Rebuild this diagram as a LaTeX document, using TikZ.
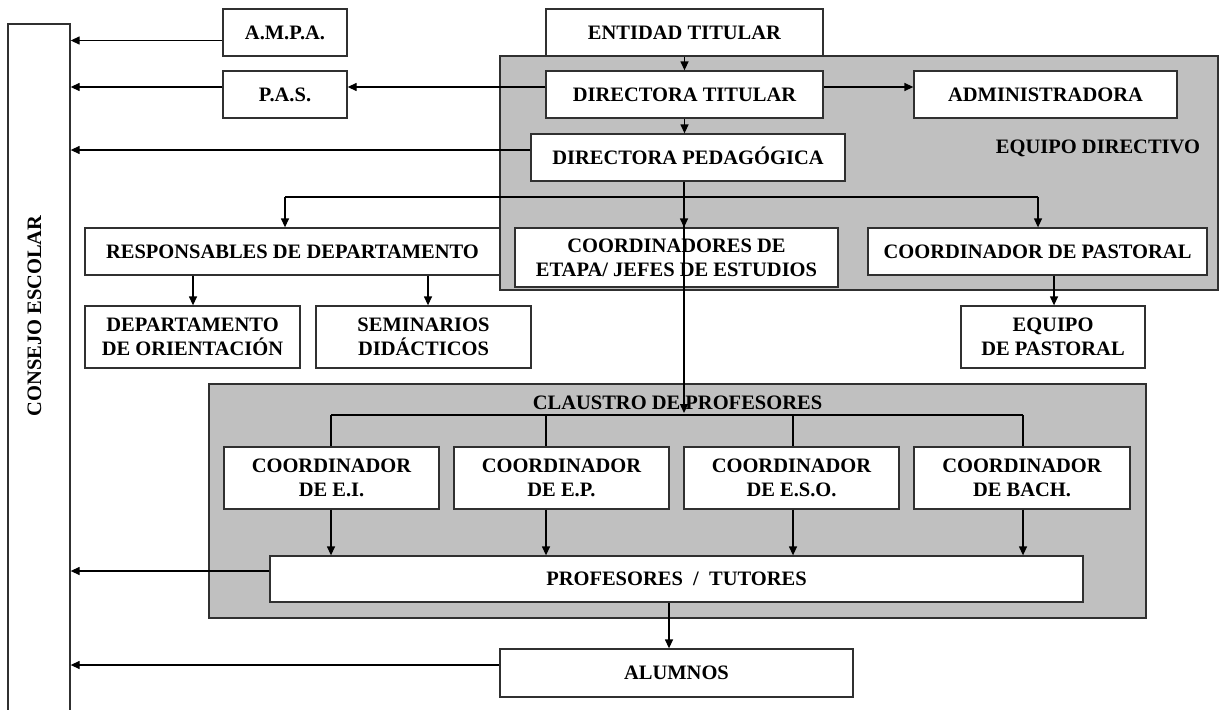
\documentclass[tikz,border=0pt]{standalone}
\usepackage{fontspec}
\setmainfont{Liberation Serif}
\usetikzlibrary{arrows.meta,calc}
\definecolor{grayfill}{HTML}{C0C0C0}
\definecolor{edge}{HTML}{303030}
\begin{document}
\begin{tikzpicture}[x=1pt,y=-1pt,
  txt/.style={font=\fontsize{20.5}{24}\selectfont\bfseries,inner sep=0pt},
  box/.style={txt,draw=edge,line width=1.3pt,fill=white,align=center},
  onebox/.style={box,text height=13.5pt,text depth=0pt},
  panel/.style={draw=edge,line width=1.8pt,fill=grayfill},
  conn/.style={line width=1.3pt,draw=black},
  arr/.style={conn,-{Triangle[length=9pt,width=8pt]}}]
\useasboundingbox (0,0) rectangle (1222,709);
\clip (0,0) rectangle (1222,709);
\fill[white] (0,0) rectangle (1222,709);

% panels
\draw[panel] (500,56) rectangle (1218,290);
\draw[panel] (209,384) rectangle (1146,618);

% consejo escolar
\node[draw=edge,line width=1.3pt,fill=white,minimum width=62pt,minimum height=706pt,inner sep=0pt] (consejo) at (39,377) {};
\node[txt,rotate=90] (consejotxt) at (34.5,316) {CONSEJO ESCOLAR};

% top boxes
\node[onebox,minimum width=124pt,minimum height=47pt] (ampa) at (285,32.5) {A.M.P.A.};
\node[onebox,minimum width=124pt,minimum height=47pt] (pas) at (285,94.5) {P.A.S.};
\node[onebox,minimum width=277pt,minimum height=47pt] (entidad) at (684.5,32.5) {ENTIDAD TITULAR};
\node[onebox,minimum width=277pt,minimum height=47pt] (dirtit) at (684.5,94.5) {DIRECTORA TITULAR};
\node[onebox,minimum width=263pt,minimum height=47pt] (admin) at (1045.5,94.5) {ADMINISTRADORA};
\node[onebox,minimum width=314pt,minimum height=47pt] (dirped) at (688,157.5) {DIRECTORA PEDAGÓGICA};
\node[txt] (eqdir) at (1098,148) {EQUIPO DIRECTIVO};

% middle row
\node[onebox,minimum width=415pt,minimum height=47pt] (resp) at (292.5,251.5) {RESPONSABLES DE DEPARTAMENTO};
\node[box,minimum width=323pt,minimum height=59pt] (coordetapa) at (676.5,257.5) {COORDINADORES DE\\ETAPA/ JEFES DE ESTUDIOS};
\node[onebox,minimum width=339pt,minimum height=47pt] (coordpast) at (1037.5,251.5) {COORDINADOR DE PASTORAL};
\node[box,minimum width=215pt,minimum height=62pt] (deptor) at (192.5,337) {DEPARTAMENTO\\DE ORIENTACIÓN};
\node[box,minimum width=215pt,minimum height=62pt] (semin) at (423.5,337) {SEMINARIOS\\DIDÁCTICOS};
\node[box,minimum width=184pt,minimum height=62pt] (eqpast) at (1053,337) {EQUIPO\\DE PASTORAL};

% claustro
\node[txt] (claustro) at (677.5,403) {CLAUSTRO DE PROFESORES};
\node[box,minimum width=215pt,minimum height=62pt] (ei) at (331.5,478) {COORDINADOR\\DE E.I.};
\node[box,minimum width=215pt,minimum height=62pt] (ep) at (561.5,478) {COORDINADOR\\DE E.P.};
\node[box,minimum width=215pt,minimum height=62pt] (eso) at (791.5,478) {COORDINADOR\\DE E.S.O.};
\node[box,minimum width=216pt,minimum height=62pt] (bach) at (1022,478) {COORDINADOR\\DE BACH.};
\node[onebox,minimum width=813pt,minimum height=46pt] (prof) at (676.5,579) {PROFESORES \ / \ TUTORES};
\node[onebox,minimum width=353pt,minimum height=48pt] (alum) at (676.5,673) {ALUMNOS};

% connectors to consejo escolar
\coordinate (ampal) at ($(ampa.west)+(0,8)$);
\coordinate (pasl) at ($(pas.west)+(0,-7.5)$);
\coordinate (dpl) at ($(dirped.west)+(0,-7.5)$);
\coordinate (profl) at ($(prof.west)+(0,-8)$);
\coordinate (aluml) at ($(alum.west)+(0,-8)$);
\draw[arr] (ampal) -- (ampal -| consejo.east);
\draw[arr] (pasl) -- (pasl -| consejo.east);
\draw[arr] (dpl) -- (dpl -| consejo.east);
\draw[arr] (profl) -- (profl -| consejo.east);
\draw[arr] (aluml) -- (aluml -| consejo.east);

% top connectors
\draw[arr] (entidad.south) -- (dirtit.north);
\draw[arr] (dirtit.south) -- (dirtit.south |- dirped.north);
\coordinate (dtl) at ($(dirtit.west)+(0,-7.5)$);
\coordinate (dtr) at ($(dirtit.east)+(0,-7.5)$);
\draw[arr] (dtl) -- (dtl -| pas.east);
\draw[arr] (dtr) -- (dtr -| admin.west);

% branch from directora pedagogica
\coordinate (bm) at (684,197);
\coordinate (bl) at (285,197);
\coordinate (brr) at (1038,197);
\coordinate (cltop) at (684,413);
\draw[conn] (bl) -- (brr);
\draw[arr] (bl) -- (bl |- resp.north);
\draw[arr] (brr) -- (brr |- coordpast.north);
\draw[arr] (bm |- dirped.south) -- (bm |- coordetapa.north);
\draw[arr] (bm |- dirped.south) -- (cltop);

% departamento branches
\coordinate (r1) at (193,0);
\coordinate (r2) at (428,0);
\coordinate (p1) at (1054,0);
\draw[arr] (r1 |- resp.south) -- (r1 |- deptor.north);
\draw[arr] (r2 |- resp.south) -- (r2 |- semin.north);
\draw[arr] (p1 |- coordpast.south) -- (p1 |- eqpast.north);

% claustro branches
\coordinate (c1) at (331,415);
\coordinate (c2) at (546,415);
\coordinate (c3) at (793,415);
\coordinate (c4) at (1023,415);
\draw[conn] (c1) -- (c4);
\draw[conn] (c1) -- (c1 |- ei.north);
\draw[conn] (c2) -- (c2 |- ep.north);
\draw[conn] (c3) -- (c3 |- eso.north);
\draw[conn] (c4) -- (c4 |- bach.north);
\draw[arr] (c1 |- ei.south) -- (c1 |- prof.north);
\draw[arr] (c2 |- ep.south) -- (c2 |- prof.north);
\draw[arr] (c3 |- eso.south) -- (c3 |- prof.north);
\draw[arr] (c4 |- bach.south) -- (c4 |- prof.north);

% profesores to alumnos
\coordinate (pa) at (669,0);
\draw[arr] (pa |- prof.south) -- (pa |- alum.north);
\end{tikzpicture}
\end{document}
